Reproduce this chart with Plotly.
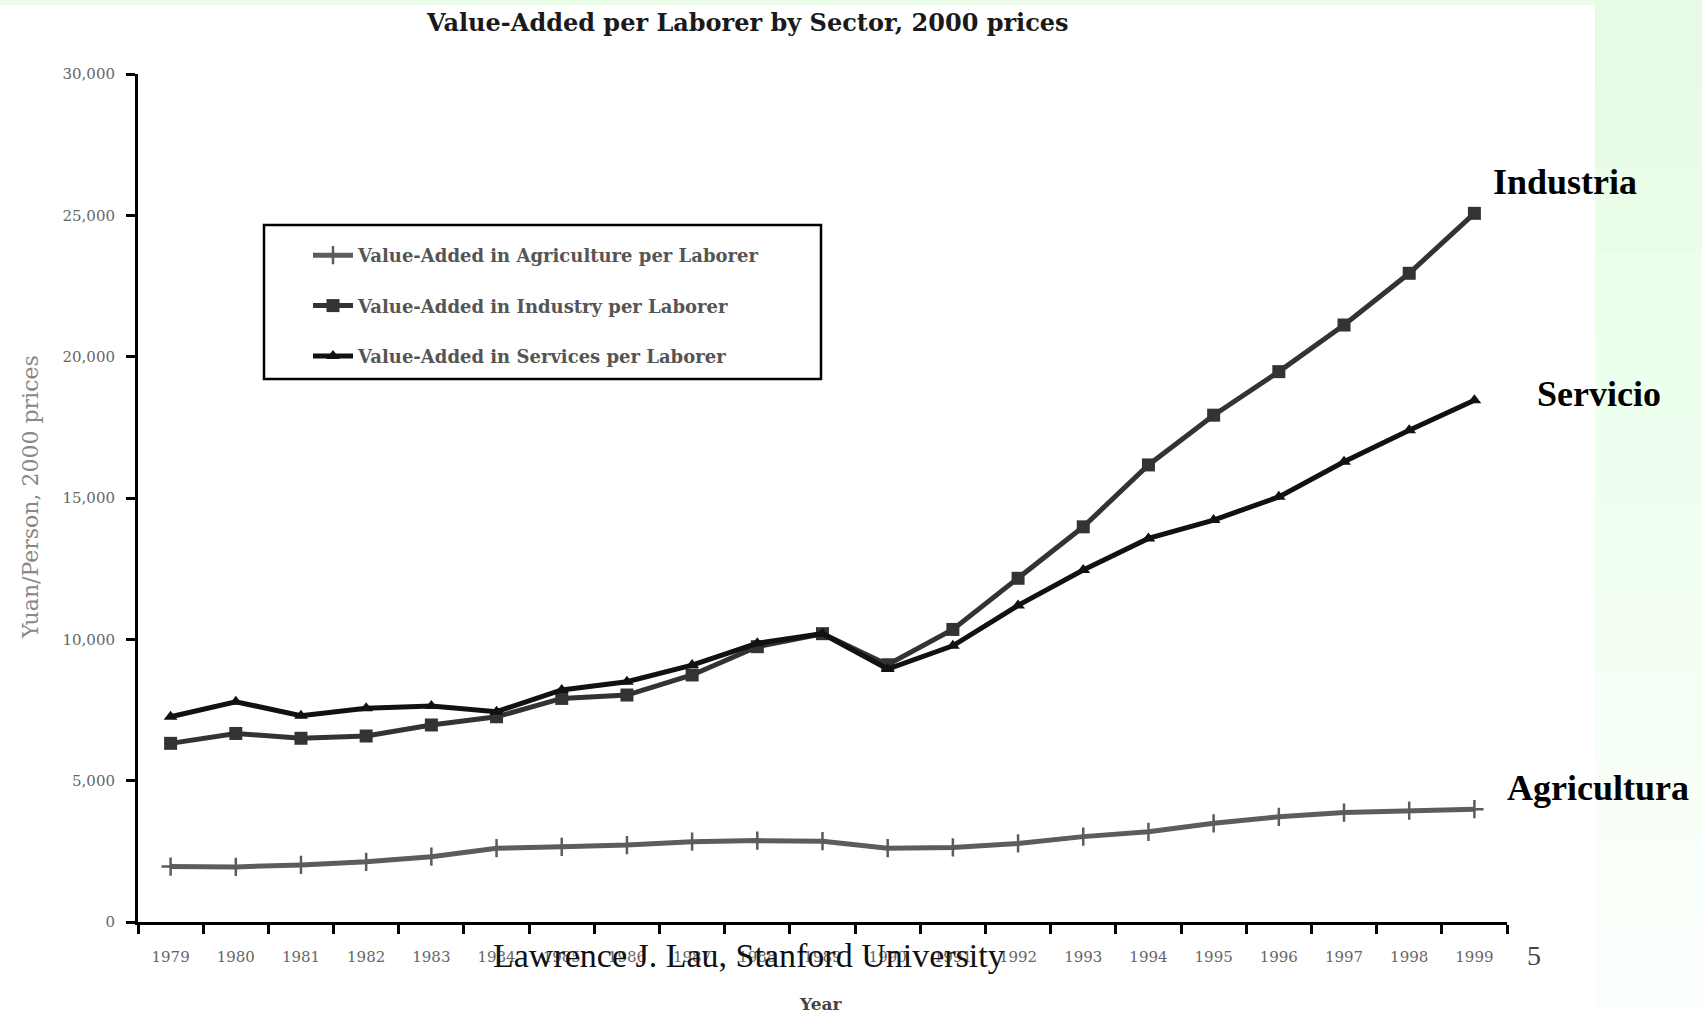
import plotly.graph_objects as go

years = [str(y) for y in range(1979, 2000)]
agriculture = [1960, 1950, 2020, 2130, 2310, 2610, 2660, 2720, 2840, 2880, 2860,
               2610, 2640, 2780, 3020, 3190, 3490, 3720, 3870, 3940, 3990]
industry = [6320, 6670, 6500, 6580, 6970, 7260, 7910, 8030, 8740, 9740, 10200,
            9100, 10350, 12160, 13980, 16170, 17930, 19470, 21120, 22950, 25070]
services = [7260, 7790, 7300, 7560, 7640, 7440, 8210, 8500, 9090, 9860, 10200,
            8950, 9770, 11200, 12450, 13570, 14220, 15040, 16280, 17400, 18460]
y_ticks = [0, 5000, 10000, 15000, 20000, 25000, 30000]
series_names = ["Value-Added in Agriculture per Laborer",
                "Value-Added in Industry per Laborer",
                "Value-Added in Services per Laborer"]

W, H = 1702, 1010
L, R, T, B = 138, 1507, 74, 922  # plot area in pixels


def px(x):
    return (x - L) / (R - L)


def py(y):
    return (B - y) / (B - T)


serif = "Liberation Serif, Times New Roman, serif"
wide = "DejaVu Serif, serif"

fig = go.Figure()
fig.add_trace(go.Scatter(
    x=years, y=agriculture, name=series_names[0], mode="lines+markers",
    line=dict(color="#5c5c5c", width=5),
    marker=dict(symbol="cross-thin", size=13, line=dict(color="#5c5c5c", width=2.5)),
    legendgroup="a"))
fig.add_trace(go.Scatter(
    x=years, y=industry, name=series_names[1], mode="lines+markers",
    line=dict(color="#333333", width=5),
    marker=dict(symbol="square", size=13, color="#333333"),
    legendgroup="b"))
fig.add_trace(go.Scatter(
    x=years, y=services, name=series_names[2], mode="lines+markers",
    line=dict(color="#111111", width=5),
    marker=dict(symbol="triangle-up", size=12, color="#111111"),
    legendgroup="c"))

shapes = []
# light green slide background strip on the right, faded downwards
n = 12
for i in range(n):
    y0 = i * H / n
    y1 = (i + 1) * H / n
    g = int(0xE6 + (0xFB - 0xE6) * i / (n - 1))
    col = f"rgb({g},{min(255, g + 20)},{g})"
    shapes.append(dict(type="rect", xref="paper", yref="paper",
                       x0=px(1595), x1=px(W + 5), y0=py(y1 + 1), y1=py(y0),
                       fillcolor=col, line=dict(width=0), layer="below"))
# thin green top strip
shapes.append(dict(type="rect", xref="paper", yref="paper",
                   x0=px(-5), x1=px(1595), y0=py(5), y1=py(-5),
                   fillcolor="rgb(232,252,232)", line=dict(width=0), layer="below"))
# legend frame
shapes.append(dict(type="rect", xref="paper", yref="paper",
                   x0=px(264), x1=px(821), y0=py(379), y1=py(225),
                   fillcolor="rgba(0,0,0,0)", line=dict(color="black", width=2.5)))

annotations = [
    dict(text="<b>Value-Added per Laborer by Sector, 2000 prices</b>", x=px(747), y=py(23),
         font=dict(family=wide, size=24, color="#1a1a1a")),
    dict(text="Yuan/Person, 2000 prices", x=px(30), y=py(497), textangle=-90,
         font=dict(family=wide, size=22, color="#888")),
    dict(text="<b>Year</b>", x=px(820), y=py(1004),
         font=dict(family=wide, size=17, color="#444")),
    dict(text="<b>Industria</b>", x=px(1565), y=py(182),
         font=dict(family=serif, size=36, color="black")),
    dict(text="<b>Servicio</b>", x=px(1599), y=py(394),
         font=dict(family=serif, size=36, color="black")),
    dict(text="<b>Agricultura</b>", x=px(1598), y=py(788),
         font=dict(family=serif, size=36, color="black")),
    dict(text="Lawrence J. Lau, Stanford University", x=px(749), y=py(955),
         font=dict(family=serif, size=34, color="#111")),
    dict(text="5", x=px(1534), y=py(955),
         font=dict(family=serif, size=28, color="#444")),
]
for a in annotations:
    a.update(xref="paper", yref="paper", showarrow=False,
             xanchor="center", yanchor="middle")

fig.update_layout(
    width=W, height=H,
    margin=dict(l=L, r=W - R, t=T, b=H - B, pad=0),
    paper_bgcolor="white", plot_bgcolor="white",
    showlegend=True,
    legend=dict(x=px(308), y=py(237), xanchor="left", yanchor="top",
                bgcolor="rgba(0,0,0,0)", borderwidth=0,
                font=dict(family=wide, size=18, color="#555", weight="bold"),
                tracegroupgap=24, traceorder="grouped", itemwidth=40),
    shapes=shapes, annotations=annotations,
    xaxis=dict(type="category", showgrid=False, zeroline=False,
               showline=True, linecolor="black", linewidth=3,
               ticks="outside", ticklen=9, tickwidth=2.5, tickcolor="black",
               tickson="boundaries", ticklabelstandoff=19,
               tickfont=dict(family=wide, size=15, color="#666"),
               range=[-0.5, len(years) - 0.5]),
    yaxis=dict(range=[0, 30000], tickvals=y_ticks, tickformat=",",
               showgrid=False, zeroline=False,
               showline=True, linecolor="black", linewidth=3,
               ticks="outside", ticklen=9, tickwidth=2.5, tickcolor="black",
               ticklabelstandoff=8,
               tickfont=dict(family=wide, size=15, color="#666")),
)

fig.write_html("out.html", config={"displayModeBar": False})

# remove the default page margin so the figure sits at the window's corner
with open("out.html", encoding="utf-8") as f:
    html = f.read()
html = html.replace("<body>", '<body style="margin:0">', 1)
with open("out.html", "w", encoding="utf-8") as f:
    f.write(html)
